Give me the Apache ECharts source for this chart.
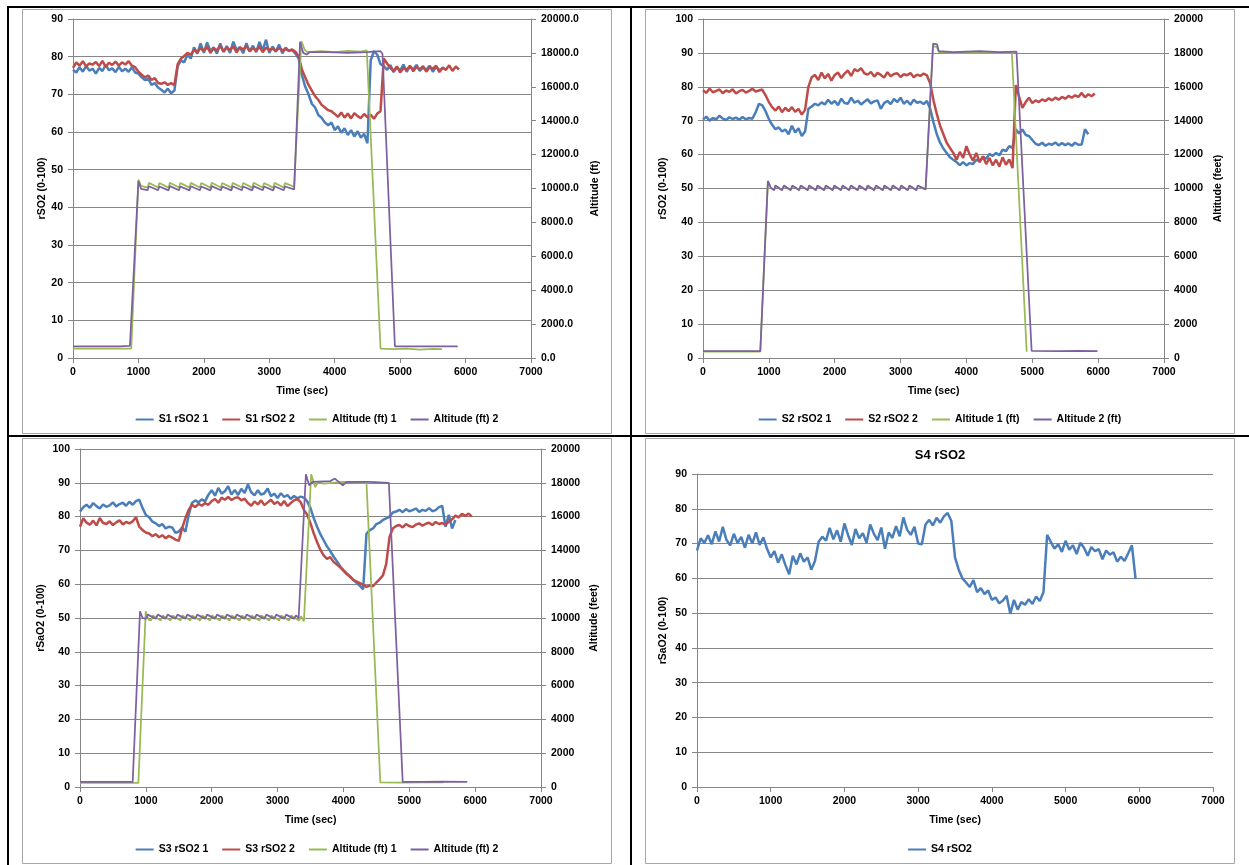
<!DOCTYPE html>
<html><head><meta charset="utf-8">
<script src="https://cdn.jsdelivr.net/npm/echarts@6/dist/echarts.min.js"></script>
<style>
html,body{margin:0;padding:0;background:#fff;width:1249px;height:865px;overflow:hidden;position:relative}
.bl{position:absolute;background:#000}
.ch{position:absolute}
</style></head><body>
<div class="bl" style="left:7px;top:6px;width:1242px;height:2px"></div>
<div class="bl" style="left:7px;top:6px;width:2px;height:859px"></div>
<div class="bl" style="left:630px;top:6px;width:2px;height:859px"></div>
<div class="bl" style="left:7px;top:435px;width:1242px;height:2px"></div>
<div id="c1" class="ch" style="left:22px;top:9px;width:590px;height:425px"></div>
<div id="c2" class="ch" style="left:645px;top:9px;width:590px;height:425px"></div>
<div id="c3" class="ch" style="left:22px;top:438px;width:590px;height:426px"></div>
<div id="c4" class="ch" style="left:645px;top:438px;width:590px;height:426px"></div>
<script>
// ---------- data ----------
const STEP = 50; // sample spacing (sec) of the rSO2 series
const xTicks = [0, 1000, 2000, 3000, 4000, 5000, 6000, 7000];

// Panel 1
const s1_rso2_1 = [76.5,75.8,77.2,76.0,77.5,76.3,76.8,75.5,77.0,76.2,77.8,76.4,76.9,75.9,77.3,76.1,76.8,
 76.0,77.2,75.8,75.5,
 74.5,73.8,74.2,72.5,73.0,71.8,
 71.2,70.5,71.5,70.3,71.0,
 77.5,79.0,78.5,80.5,79.5,82.5,80.8,83.5,
 81.0,83.8,81.5,82.5,80.8,83.5,81.3,82.8,81.0,84.0,81.8,82.5,80.9,83.6,81.4,82.9,81.2,83.9,81.6,84.5,81.0,82.7,81.3,83.2,80.9,82.4,81.5,81.8,80.8,
 79.5,75.0,72.0,70.0,67.5,66.5,64.5,63.8,62.5,61.8,62.5,60.5,61.5,59.8,61.0,59.2,60.5,58.8,60.2,58.5,59.5,
 57.0,79.0,81.5,80.5,78.0,77.5,
 76.5,77.8,75.9,77.2,76.3,77.9,76.0,77.4,76.6,77.8,76.2,77.1,76.5,77.6,76.0,77.3,76.4,76.8];
const s1_rso2_2 = [77.0,78.5,77.6,78.8,77.4,78.2,77.9,78.6,77.5,78.9,77.3,78.4,77.8,78.7,77.6,78.5,77.9,
 78.8,77.6,77.2,76.0,75.2,74.5,75.0,73.8,74.3,73.0,72.8,73.2,72.5,73.0,72.4,
 78.0,79.5,80.2,81.0,80.5,81.8,81.2,82.3,
 81.5,82.6,81.0,82.2,81.7,82.9,81.3,82.4,81.8,82.7,81.1,82.5,81.9,82.8,81.4,82.3,81.6,82.6,81.2,82.4,81.8,82.1,81.5,82.3,81.7,82.0,81.6,81.9,81.3,
 80.0,76.5,74.5,72.5,71.0,69.5,68.5,67.2,66.5,65.8,65.5,64.8,
 64.0,65.2,63.8,64.9,63.6,65.0,64.2,63.7,64.8,63.9,64.6,63.5,64.9,65.5,
 79.5,78.2,77.0,
 76.2,77.4,75.8,77.0,76.5,77.6,76.1,77.3,76.6,77.5,76.0,77.2,76.8,77.6,75.9,77.1,76.5,77.7,76.2,77.4,76.6];
const s1_alt_1 = [[0,560],[890,560],[1000,10520],[1040,10150],[1140,10050],[1160,10330],[1300,10060],[1320,10320],[1460,10050],[1480,10340],[1620,10060],[1640,10320],[1780,10050],[1800,10330],[1940,10060],[1960,10320],[2100,10050],[2120,10340],[2260,10060],[2280,10320],[2420,10050],[2440,10330],[2580,10060],[2600,10320],[2740,10050],[2760,10340],[2900,10060],[2920,10320],[3060,10050],[3080,10330],[3220,10060],[3240,10320],[3380,10100],[3490,18700],[3540,18200],[3580,18050],[3800,18100],[4000,18050],[4200,18120],[4400,18080],[4490,18150],[4700,560],[4900,520],[5100,560],[5300,500],[5500,540],[5640,520]];
const s1_alt_2 = [[0,690],[700,690],[720,730],[870,710],[890,650],[1000,10440],[1040,9980],[1140,9900],[1160,10130],[1300,9900],[1320,10120],[1460,9890],[1480,10140],[1620,9900],[1640,10120],[1780,9890],[1800,10130],[1940,9900],[1960,10120],[2100,9890],[2120,10140],[2260,9900],[2280,10120],[2420,9890],[2440,10130],[2580,9900],[2600,10120],[2740,9890],[2760,10140],[2900,9900],[2920,10120],[3060,9890],[3080,10130],[3220,9900],[3240,10120],[3380,9950],[3470,18650],[3520,18000],[3570,17900],[3620,18050],[3900,18050],[4200,18000],[4500,18050],[4700,18100],[4730,17950],[4920,690],[5200,690],[5500,690],[5880,690]];

// Panel 2
const s2_rso2_1 = [70.3,71.2,70.0,70.8,70.4,71.5,70.6,70.2,71.0,70.5,70.9,70.3,71.1,70.4,70.8,70.6,
 72.5,75.0,74.5,72.8,70.5,68.8,67.5,68.0,66.8,67.4,66.0,68.5,66.5,67.8,65.5,66.8,73.5,
 74.2,75.0,74.5,75.4,74.8,76.2,75.0,75.8,74.6,76.5,75.2,75.0,76.8,75.3,75.9,74.8,75.6,76.3,75.1,75.7,76.0,73.5,75.2,75.8,74.9,76.4,75.5,76.8,75.0,75.9,74.7,76.2,75.3,75.6,74.9,75.8,
 73.5,69.5,66.0,63.5,61.8,60.5,59.2,58.5,57.8,56.9,57.8,56.8,57.5,57.2,58.5,58.0,59.3,58.8,60.2,59.6,60.5,59.8,61.5,61.0,62.5,62.0,67.5,66.2,67.4,65.8,65.5,64.3,63.2,
 62.8,63.5,62.6,63.2,62.9,63.6,62.7,63.4,62.8,63.3,62.6,63.5,62.9,63.0,
 67.5,66.0];
const s2_rso2_2 = [79.0,78.2,79.5,78.4,78.8,79.2,78.1,78.9,78.5,79.3,78.0,78.7,79.1,78.3,78.8,79.4,78.6,78.9,79.2,
 77.5,75.5,74.0,73.0,74.2,72.5,73.8,72.8,74.0,72.6,73.5,71.8,73.2,
 80.0,82.8,83.5,82.0,84.2,82.5,83.8,81.8,
 83.5,84.2,82.6,83.9,84.8,83.2,85.2,84.6,85.5,84.0,83.6,84.4,83.0,84.1,83.5,82.7,84.3,83.1,83.8,84.0,82.9,83.7,83.4,84.1,82.8,83.6,83.2,83.9,83.4,
 81.0,76.0,72.0,68.5,66.0,63.5,62.0,60.5,58.5,60.8,59.0,62.5,60.0,58.2,60.5,57.8,59.5,57.2,59.0,56.8,58.5,56.5,59.2,57.0,58.6,56.0,80.5,77.0,73.8,75.5,76.8,75.2,76.0,
 75.5,76.3,75.8,76.6,76.0,76.8,76.2,77.0,76.5,77.3,76.8,77.5,77.0,78.2,76.9,77.8,77.2,78.0];
const s2_alt_1 = [[0,370],[870,370],[985,10400],[1030,10000],[1080,9950],[1100,10150],[1200,9920],[1230,10150],[1330,9920],[1357,10150],[1460,9920],[1484,10150],[1590,9920],[1611,10150],[1715,9920],[1738,10150],[1840,9920],[1865,10150],[1970,9920],[1992,10150],[2095,9920],[2119,10150],[2220,9920],[2246,10150],[2350,9920],[2373,10150],[2475,9920],[2500,10150],[2600,9920],[2627,10150],[2730,9920],[2754,10150],[2855,9920],[2881,10150],[2985,9920],[3008,10150],[3110,9920],[3135,10150],[3240,9920],[3262,10150],[3380,9950],[3490,18400],[3550,18350],[3580,18050],[3800,18000],[4200,18020],[4500,18000],[4690,18000],[4915,370]];
const s2_alt_2 = [[0,400],[870,400],[985,10450],[1030,10050],[1080,9900],[1100,10180],[1200,9900],[1230,10180],[1330,9900],[1357,10180],[1460,9900],[1484,10180],[1590,9900],[1611,10180],[1715,9900],[1738,10180],[1840,9900],[1865,10180],[1970,9900],[1992,10180],[2095,9900],[2119,10180],[2220,9900],[2246,10180],[2350,9900],[2373,10180],[2475,9900],[2500,10180],[2600,9900],[2627,10180],[2730,9900],[2754,10180],[2855,9900],[2881,10180],[2985,9900],[3008,10180],[3110,9900],[3135,10180],[3240,9900],[3262,10180],[3380,9950],[3495,18550],[3555,18500],[3580,18100],[3800,18050],[4200,18100],[4500,18050],[4760,18080],[4990,420],[5400,400],[5700,420],[5990,400]];

// Panel 3
const s3_rso2_1 = [81.5,82.8,83.5,82.6,84.0,83.1,82.4,83.6,82.9,83.3,84.2,83.0,83.7,84.1,83.2,84.4,83.5,84.6,85.0,
 82.5,80.5,79.8,78.5,78.0,77.2,77.8,76.5,77.0,76.8,75.2,75.6,76.8,75.5,80.5,84.0,84.8,84.2,85.1,84.5,86.5,
 87.8,86.2,88.5,86.8,87.5,89.0,86.5,87.9,86.4,88.2,87.0,
 89.5,87.2,86.3,87.8,86.5,86.9,88.3,86.0,86.8,85.5,86.9,85.8,86.4,85.2,86.1,85.4,85.9,85.6,
 84.5,82.5,79.5,77.0,74.8,73.0,71.2,69.8,68.2,66.8,65.3,64.2,63.2,62.3,61.3,60.4,59.5,58.5,75.0,76.0,76.5,77.8,78.2,79.0,79.5,80.0,81.2,
 81.5,82.0,81.3,82.2,81.6,81.9,82.4,81.4,82.0,81.7,82.5,81.6,81.9,82.8,83.2,77.0,80.5,76.5,79.0];
const s3_rso2_2 = [77.0,79.5,78.2,77.6,78.8,77.4,79.6,78.1,77.8,78.6,77.5,78.3,78.9,77.7,78.4,78.0,78.6,79.8,
 77.0,76.0,75.3,75.0,74.2,74.8,73.9,74.5,73.6,74.3,73.8,73.2,72.8,76.5,79.5,82.0,83.5,82.8,83.8,83.2,84.0,83.5,
 84.6,85.2,84.1,85.6,85.0,85.8,84.9,85.5,85.7,84.8,85.3,
 84.0,83.2,84.5,83.6,84.8,83.4,84.2,85.0,83.7,84.4,83.3,84.6,83.1,84.0,84.8,85.2,84.3,
 82.0,80.5,78.0,75.0,72.5,70.2,68.5,67.5,68.0,66.6,65.8,65.0,64.0,63.0,62.2,61.3,60.8,60.3,59.8,59.2,59.6,59.4,60.5,61.5,62.6,66.0,74.0,76.5,77.2,
 77.5,76.8,77.8,77.2,76.9,77.6,78.0,77.3,77.9,78.2,77.5,78.4,77.8,78.1,77.6,78.5,79.2,80.3,79.8,80.8,80.2,80.9,80.0];
const s3_alt_1 = [[0,250],[886,250],[998,10400],[1040,9900],[1080,9850],[1105,10150],[1225,9850],[1255,10150],[1375,9850],[1405,10150],[1525,9850],[1555,10150],[1675,9850],[1705,10150],[1825,9850],[1855,10150],[1975,9850],[2005,10150],[2125,9850],[2155,10150],[2275,9850],[2305,10150],[2425,9850],[2455,10150],[2575,9850],[2605,10150],[2725,9850],[2755,10150],[2875,9850],[2905,10150],[3025,9850],[3055,10150],[3175,9850],[3205,10150],[3325,9850],[3355,10100],[3400,9800],[3510,18500],[3570,17750],[3620,18050],[3700,17950],[4000,18050],[4350,18000],[4560,280],[4900,260],[5200,280],[5520,270]];
const s3_alt_2 = [[0,300],[800,300],[911,10400],[950,10000],[1000,9950],[1030,10200],[1150,9950],[1180,10200],[1300,9950],[1330,10200],[1450,9950],[1480,10200],[1600,9950],[1630,10200],[1750,9950],[1780,10200],[1900,9950],[1930,10200],[2050,9950],[2080,10200],[2200,9950],[2230,10200],[2350,9950],[2380,10200],[2500,9950],[2530,10200],[2650,9950],[2680,10200],[2800,9950],[2830,10200],[2950,9950],[2980,10200],[3100,9950],[3130,10200],[3250,9950],[3280,10150],[3320,10000],[3430,18500],[3480,17850],[3530,18050],[3800,18100],[3870,18250],[3990,17850],[4050,18050],[4400,18050],[4690,18000],[4900,300],[5200,300],[5500,320],[5880,300]];

// Panel 4
const s4_rso2 = [68.0,71.5,70.2,72.4,69.8,73.5,70.6,74.8,71.0,69.5,72.8,70.2,71.9,68.8,72.5,70.0,73.2,69.6,71.8,
 68.5,66.0,67.8,64.5,66.9,63.8,61.2,66.5,64.0,67.2,64.8,66.0,62.5,65.0,70.5,
 72.0,70.8,74.5,71.2,73.8,70.5,75.8,72.4,69.6,74.2,71.5,73.0,70.2,75.5,72.8,71.0,74.6,68.5,73.2,71.6,75.0,72.1,77.5,74.0,72.5,74.8,70.0,69.8,
 75.5,76.8,75.2,77.4,76.0,77.8,78.8,76.5,
 66.0,62.5,60.0,58.8,57.5,59.5,56.0,57.2,55.5,56.5,53.8,
 54.5,52.8,53.6,55.0,49.8,53.8,51.0,53.2,52.4,54.0,52.6,54.8,53.5,
 56.0,72.5,70.5,
 68.5,69.8,67.6,70.8,68.2,69.5,67.0,70.2,68.8,66.5,69.0,67.8,68.4,65.5,68.0,66.8,67.5,64.8,66.2,65.0,67.2,69.5,59.8];

// ---------- style ----------
const FONT = '"Liberation Sans", Arial, sans-serif';
const BLUE = '#4A7EBB', RED = '#BE4B48', GREEN = '#98B954', PURPLE = '#7D60A0';
const AX = '#868686';
const LBL = {fontFamily: FONT, fontSize: 10.5, fontWeight: 'bold', color: '#000'};

const ts = (vals) => vals.map((v, i) => [i * STEP, v]);
const plain = v => String(v);

function xAxis() {
  return {type: 'value', min: xTicks[0], max: xTicks[xTicks.length - 1], interval: 1000,
    name: 'Time (sec)', nameLocation: 'middle', nameGap: 28, nameTextStyle: LBL, nameMoveOverlap: false,
    axisLine: {show: true, lineStyle: {color: AX}}, axisTick: {show: true, length: 5, lineStyle: {color: AX}},
    axisLabel: Object.assign({margin: 9, formatter: plain}, LBL), splitLine: {show: false}};
}
function yLeft(max, name, gap) {
  return {type: 'value', min: 0, max: max, interval: 10, position: 'left',
    name: name, nameLocation: 'middle', nameRotate: 90, nameGap: gap, nameTextStyle: LBL, nameMoveOverlap: false,
    axisLine: {show: true, lineStyle: {color: AX}}, axisTick: {show: true, length: 5, lineStyle: {color: AX}},
    axisLabel: Object.assign({margin: 10, formatter: plain}, LBL), splitLine: {show: true, lineStyle: {color: AX, width: 1}}};
}
function yRight(name, gap, fmt) {
  return {type: 'value', min: 0, max: 20000, interval: 2000, position: 'right',
    name: name, nameLocation: 'middle', nameRotate: 90, nameGap: gap, nameTextStyle: LBL, nameMoveOverlap: false,
    axisLine: {show: true, lineStyle: {color: AX}}, axisTick: {show: true, length: 5, lineStyle: {color: AX}},
    axisLabel: Object.assign({margin: 10, formatter: fmt}, LBL), splitLine: {show: false}};
}
function line(name, data, color, yIdx, w) {
  return {type: 'line', name: name, data: data, yAxisIndex: yIdx, symbol: 'none', showSymbol: false,
    lineStyle: {color: color, width: w}, itemStyle: {color: color}, animation: false};
}
function frame(w, h) {
  return [{type: 'rect', shape: {x: 0.5, y: 0.5, width: w - 1, height: h - 1}, style: {fill: 'none', stroke: '#a6a6a6', lineWidth: 1}, silent: true}];
}
function legend(names, top) {
  return {data: names, left: 'center', top: top, itemWidth: 18, itemHeight: 10, itemGap: 14,
    textStyle: LBL, icon: 'path://M0,4 L18,4 L18,6 L0,6 Z', selectedMode: false};
}

// Panel 1
echarts.init(document.getElementById('c1')).setOption({
  animation: false,
  graphic: frame(590, 425),
  grid: {left: 51, top: 10, width: 458, height: 339},
  xAxis: xAxis(),
  yAxis: [yLeft(90, 'rSO2 (0-100)', 25), yRight('Altitude (ft)', 59, v => v.toFixed(1))],
  legend: legend(['S1 rSO2 1', 'S1 rSO2 2', 'Altitude (ft) 1', 'Altitude (ft) 2'], 400),
  series: [line('S1 rSO2 1', ts(s1_rso2_1), BLUE, 0, 2.5), line('S1 rSO2 2', ts(s1_rso2_2), RED, 0, 2.5),
    line('Altitude (ft) 1', s1_alt_1, GREEN, 1, 1.75), line('Altitude (ft) 2', s1_alt_2, PURPLE, 1, 1.75)]
});
// Panel 2
echarts.init(document.getElementById('c2')).setOption({
  animation: false,
  graphic: frame(590, 425),
  grid: {left: 58, top: 10, width: 461, height: 339},
  xAxis: xAxis(),
  yAxis: [yLeft(100, 'rSO2 (0-100)', 34), yRight('Altitude (feet)', 49, plain)],
  legend: legend(['S2 rSO2 1', 'S2 rSO2 2', 'Altitude 1 (ft)', 'Altitude 2 (ft)'], 400),
  series: [line('S2 rSO2 1', ts(s2_rso2_1), BLUE, 0, 2.5), line('S2 rSO2 2', ts(s2_rso2_2), RED, 0, 2.5),
    line('Altitude 1 (ft)', s2_alt_1, GREEN, 1, 1.75), line('Altitude 2 (ft)', s2_alt_2, PURPLE, 1, 1.75)]
});
// Panel 3
echarts.init(document.getElementById('c3')).setOption({
  animation: false,
  graphic: frame(590, 426),
  grid: {left: 58, top: 11, width: 461, height: 338},
  xAxis: xAxis(),
  yAxis: [yLeft(100, 'rSaO2 (0-100)', 33), yRight('Altitude (feet)', 48, plain)],
  legend: legend(['S3 rSO2 1', 'S3 rSO2 2', 'Altitude (ft) 1', 'Altitude (ft) 2'], 401),
  series: [line('S3 rSO2 1', ts(s3_rso2_1), BLUE, 0, 2.5), line('S3 rSO2 2', ts(s3_rso2_2), RED, 0, 2.5),
    line('Altitude (ft) 1', s3_alt_1, GREEN, 1, 1.75), line('Altitude (ft) 2', s3_alt_2, PURPLE, 1, 1.75)]
});
// Panel 4
echarts.init(document.getElementById('c4')).setOption({
  animation: false,
  graphic: frame(590, 426),
  title: {text: 'S4 rSO2', left: 'center', top: 6, textStyle: {fontFamily: FONT, fontSize: 13, fontWeight: 'bold', color: '#000'}},
  grid: {left: 52, top: 36, width: 516, height: 313},
  xAxis: xAxis(),
  yAxis: [yLeft(90, 'rSaO2 (0-100)', 28)],
  legend: legend(['S4 rSO2'], 401),
  series: [line('S4 rSO2', ts(s4_rso2), BLUE, 0, 2.5)]
});
</script>
</body></html>
